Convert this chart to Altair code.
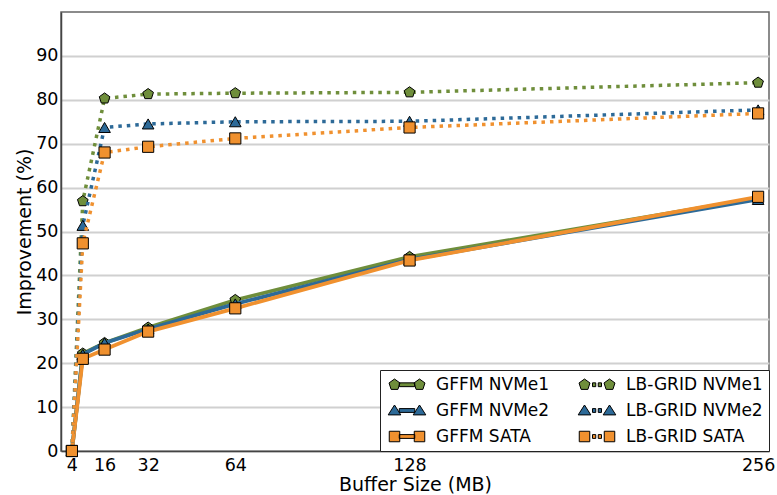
import altair as alt
import pandas as pd

# ---------------- data ----------------
buffer_mb = [4, 8, 16, 32, 64, 128, 256]
gffm_nvme1 = [0, 22.2, 24.6, 28.1, 34.4, 44.2, 57.6]
gffm_nvme2 = [0, 22.0, 24.6, 27.8, 33.5, 43.6, 57.3]
gffm_sata = [0, 21.0, 23.1, 27.2, 32.5, 43.4, 57.9]
lb_nvme1 = [0, 56.9, 80.3, 81.3, 81.5, 81.7, 83.9]
lb_nvme2 = [0, 51.4, 73.7, 74.5, 75.0, 75.1, 77.7]
lb_sata = [0, 47.3, 68.0, 69.3, 71.2, 73.7, 76.9]

series_names = ["GFFM NVMe1", "GFFM NVMe2", "GFFM SATA",
                "LB-GRID NVMe1", "LB-GRID NVMe2", "LB-GRID SATA"]
series_values = [gffm_nvme1, gffm_nvme2, gffm_sata, lb_nvme1, lb_nvme2, lb_sata]
x_ticks = [4, 16, 32, 64, 128, 256]
y_ticks = [0, 10, 20, 30, 40, 50, 60, 70, 80, 90]

# ---------------- styles ----------------
GREEN = "#6f8e3b"
BLUE = "#2d6a98"
ORANGE = "#f0912f"
FONT = "DejaVu Sans"


def pentagon(cx=0.0, r=1.0):
    pts = [(0, -1), (0.951, -0.309), (0.588, 0.809), (-0.588, 0.809), (-0.951, -0.309)]
    return "M" + "L".join(f"{cx + px * r:.3f},{py * r:.3f}" for px, py in pts) + "Z"


def triangle(cx=0.0, r=1.0):
    pts = [(0, -1.0), (1.15, 0.8), (-1.15, 0.8)]
    return "M" + "L".join(f"{cx + px * r:.3f},{py * r:.3f}" for px, py in pts) + "Z"


def square(cx=0.0, r=1.0):
    pts = [(-1, -1), (1, -1), (1, 1), (-1, 1)]
    return "M" + "L".join(f"{cx + px * r:.3f},{py * r:.3f}" for px, py in pts) + "Z"


def rect(x0, x1, h=0.38):
    return f"M{x0:.3f},{-h:.3f}L{x1:.3f},{-h:.3f}L{x1:.3f},{h:.3f}L{x0:.3f},{h:.3f}Z"


def legend_path(marker, r, dotted):
    p = marker(0, r) + marker(5, r)
    if dotted:
        p += rect(1.6, 2.25) + rect(2.75, 3.4)
    else:
        p += rect(0.95, 4.05)
    return p


colors = [GREEN, BLUE, ORANGE, GREEN, BLUE, ORANGE]
plot_shapes = [pentagon(), "triangle-up", "square", pentagon(), "triangle-up", "square"]
plot_sizes = [125, 135, 125, 125, 135, 125]
dotted = [False, False, False, True, True, True]
markers = [pentagon, triangle, square, pentagon, triangle, square]
marker_r = [1.15, 1.1, 1.05, 1.15, 1.1, 1.05]

x_enc = alt.X("x:Q",
              scale=alt.Scale(domain=[0, 260], nice=False, zero=False),
              axis=alt.Axis(values=x_ticks, title="Buffer Size (MB)", grid=False,
                            ticks=False, tickSize=0, labelPadding=5, titlePadding=2,
                            labelFlush=False))
y_enc = alt.Y("y:Q",
              scale=alt.Scale(domain=[0, 100], nice=False),
              axis=alt.Axis(values=y_ticks, title="Improvement (%)", grid=True,
                            ticks=False, tickSize=0, labelPadding=3, titlePadding=1))

layers = []
for name, vals, col, shp, sz, dot in zip(series_names, series_values, colors,
                                         plot_shapes, plot_sizes, dotted):
    df = pd.DataFrame({"x": buffer_mb, "y": vals, "series": name})
    base = alt.Chart(df)
    if dot:
        line = base.mark_line(color=col, strokeWidth=3.5, strokeDash=[3.5, 5],
                              strokeCap="butt")
    else:
        line = base.mark_line(color=col, strokeWidth=3.8)
    line = line.encode(x=x_enc, y=y_enc)
    pts = base.mark_point(filled=True, fill=col, stroke="black", strokeWidth=1,
                          opacity=1, size=sz, shape=shp).encode(x=x_enc, y=y_enc)
    layers += [line, pts]

# legend layer (no visible marks, only the legend); entries fill column by column
legend_order = series_names
legend_colors = colors
legend_paths = [legend_path(markers[i], marker_r[i], dotted[i]) for i in range(6)]

legend_df = pd.DataFrame({"x": buffer_mb, "y": gffm_nvme1, "series": "GFFM NVMe1"})
legend_layer = alt.Chart(legend_df).mark_point(
    filled=True, stroke="black", strokeWidth=1, opacity=1
).encode(
    x=x_enc, y=y_enc,
    color=alt.Color("series:N", scale=alt.Scale(domain=legend_order, range=legend_colors),
                    title=None),
    shape=alt.Shape("series:N", scale=alt.Scale(domain=legend_order, range=legend_paths),
                    title=None),
).transform_filter("datum.x < 0")

chart = alt.layer(*layers, legend_layer).properties(
    width=708, height=439,
    autosize=alt.AutoSizeParams(type="none"),
    padding={"left": 61, "top": 12, "right": 8, "bottom": 44},
).configure_view(
    stroke="#666666", strokeWidth=1.5
).configure_axis(
    labelFont=FONT, titleFont=FONT, labelFontSize=17.5, titleFontSize=19,
    labelColor="black", titleColor="black", titleFontWeight="normal",
    domainColor="#444444", domainWidth=1.5,
    gridColor="#d0d0d0", gridWidth=1.8,
).configure_legend(
    orient="bottom-right", offset=0, columns=2, padding=6,
    columnPadding=26, rowPadding=8, labelOffset=33,
    labelFont=FONT, labelFontSize=17, labelColor="black",
    symbolSize=100, symbolStrokeColor="black", symbolStrokeWidth=1,
    strokeColor="#222222", fillColor="white", cornerRadius=0,
)

chart.save("out.html", embed_options={"renderer": "svg", "actions": False})
